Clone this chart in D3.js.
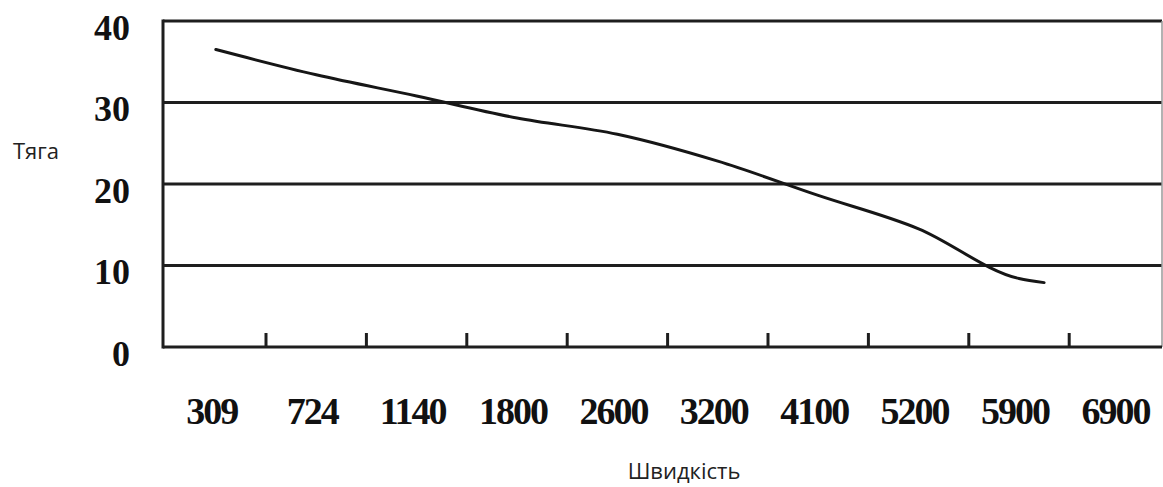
<!DOCTYPE html>
<html>
<head>
<meta charset="utf-8">
<script src="https://cdn.jsdelivr.net/npm/d3@7"></script>
<style>
  body { margin: 0; background: #fff; }
  svg { display: block; }
</style>
</head>
<body>
<div id="chart"></div>
<script>
// category labels on the x axis
var speedLabels = ["309", "724", "1140", "1800", "2600", "3200", "4100", "5200", "5900", "6900"];
var speedValues = [309, 724, 1140, 1800, 2600, 3200, 4100, 5200, 5900, 6900];
// curve points (speed, thrust)
var curveSpeed = [309, 724, 1140, 1800, 2600, 3200, 4100, 5200, 5900, 6150];
var curveThrust = [36.5, 33.4, 30.8, 28.1, 26.1, 22.8, 18.6, 14.5, 8.4, 7.9];
var yTicks = [0, 10, 20, 30, 40];

var W = 1163, H = 487;
var plotLeft = 163, plotRight = 1162, plotTop = 21, plotBottom = 347;

var svg = d3.select('#chart').append('svg')
    .attr('width', W)
    .attr('height', H);

var x = d3.scaleBand().domain(speedLabels).range([165.6, 1169.6]).paddingInner(0).paddingOuter(0);
var centers = speedLabels.map(function(d){ return x(d) + x.bandwidth()/2; });
// piecewise scale: speed value -> category position
var xs = d3.scaleLinear().domain(speedValues).range(centers);
var y = d3.scaleLinear().domain([0, 40]).range([plotBottom, plotTop]);

// horizontal grid lines
svg.append('g').selectAll('line')
    .data(yTicks.filter(function(d){ return d > 0; }))
    .enter().append('line')
    .attr('x1', plotLeft).attr('x2', plotRight)
    .attr('y1', function(d){ return y(d); })
    .attr('y2', function(d){ return y(d); })
    .attr('stroke', '#1e1e1e')
    .attr('stroke-width', 3);

// right border
svg.append('line')
    .attr('x1', plotRight).attr('x2', plotRight)
    .attr('y1', y(40)).attr('y2', y(0))
    .attr('stroke', '#999')
    .attr('stroke-width', 1.5);

// axes frame
svg.append('line')
    .attr('x1', plotLeft).attr('x2', plotLeft)
    .attr('y1', y(40) - 1.5).attr('y2', y(0) + 1.5)
    .attr('stroke', '#1e1e1e').attr('stroke-width', 3);
svg.append('line')
    .attr('x1', plotLeft).attr('x2', plotRight)
    .attr('y1', y(0)).attr('y2', y(0))
    .attr('stroke', '#1e1e1e').attr('stroke-width', 3);

// tick marks between categories
svg.append('g').selectAll('line')
    .data(speedLabels.slice(1))
    .enter().append('line')
    .attr('x1', function(d){ return x(d); })
    .attr('x2', function(d){ return x(d); })
    .attr('y1', y(0) - 14).attr('y2', y(0))
    .attr('stroke', '#1e1e1e')
    .attr('stroke-width', 3);

// y labels
svg.append('g').selectAll('text')
    .data(yTicks)
    .enter().append('text')
    .attr('x', 130)
    .attr('y', function(d){ return y(d) + 6; })
    .attr('dy', '0.35em')
    .attr('text-anchor', 'end')
    .attr('font-family', '"Liberation Serif", "Times New Roman", serif')
    .attr('font-weight', 'bold')
    .attr('font-size', 36)
    .attr('fill', '#111')
    .text(function(d){ return d; });

// x labels
svg.append('g').selectAll('text')
    .data(speedLabels)
    .enter().append('text')
    .attr('x', function(d){ return x(d) + x.bandwidth()/2 - 4; })
    .attr('y', 424)
    .attr('text-anchor', 'middle')
    .attr('font-family', '"Liberation Serif", "Times New Roman", serif')
    .attr('font-weight', 'bold')
    .attr('font-size', 38)
    .attr('letter-spacing', '-2px')
    .attr('fill', '#111')
    .text(function(d){ return d; });

// the curve
var pts = curveSpeed.map(function(s, i){ return [xs(s), y(curveThrust[i])]; });
var line = d3.line().curve(d3.curveMonotoneX);
svg.append('path')
    .attr('d', line(pts))
    .attr('fill', 'none')
    .attr('stroke', '#161616')
    .attr('stroke-width', 3)
    .attr('stroke-linejoin', 'round')
    .attr('stroke-linecap', 'round');

// axis titles
svg.append('text')
    .attr('x', 13).attr('y', 159)
    .attr('font-family', '"Open Sans", "Noto Sans", sans-serif')
    .attr('font-size', 22)
    .attr('fill', '#222')
    .text('Тяга');

svg.append('text')
    .attr('x', 684).attr('y', 479)
    .attr('text-anchor', 'middle')
    .attr('font-family', '"Open Sans", "Noto Sans", sans-serif')
    .attr('font-size', 22)
    .attr('fill', '#222')
    .text('Швидкість');
</script>
</body>
</html>
